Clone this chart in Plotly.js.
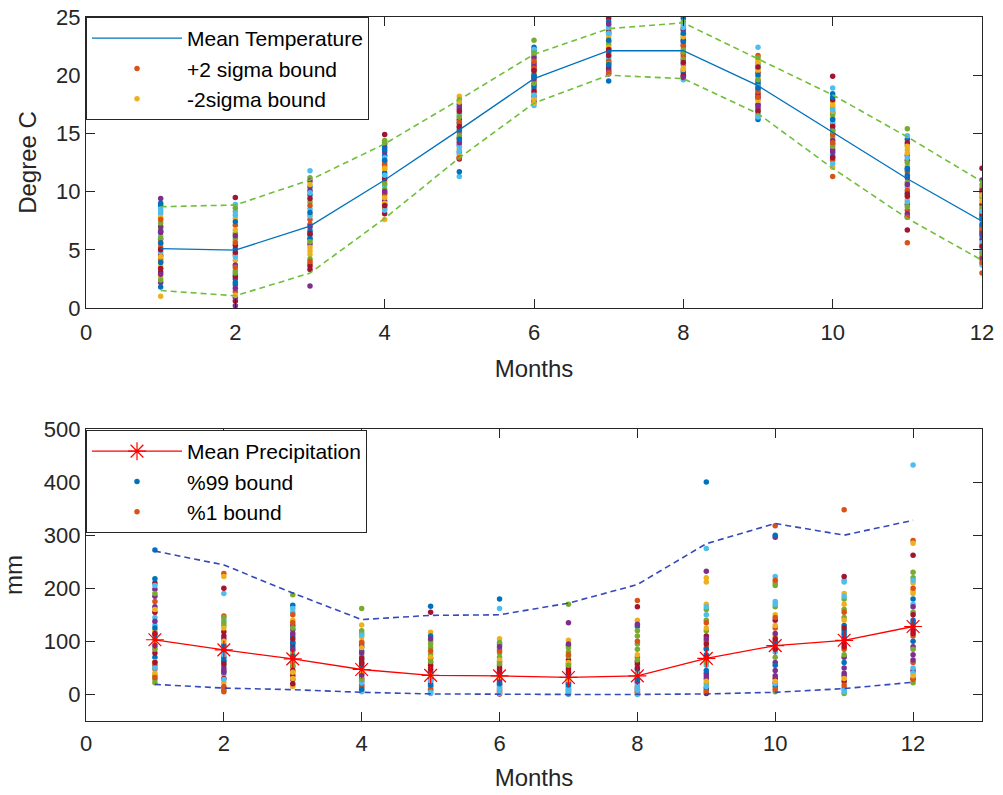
<!DOCTYPE html>
<html><head><meta charset="utf-8">
<script src="https://cdn.plot.ly/plotly-3.0.1.min.js"></script>
<style>html,body{margin:0;padding:0;background:#fff}#chart{width:1003px;height:795px}</style>
</head><body><div id="chart"></div>
<script>
// ---- data ----
const months = [1,2,3,4,5,6,7,8,9,10,11,12];
const tempMean  = [5.1, 4.97, 7.03, 11.0, 15.3, 19.7, 22.1, 22.1, 19.1, 15.1, 11.1, 7.45];
const tempUpper = [8.7, 8.85, 11.0, 14.1, 17.9, 21.8, 24.0, 24.5, 21.4, 18.3, 14.7, 10.85];
const tempLower = [1.5, 1.05, 3.0, 7.7, 12.9, 17.6, 20.0, 19.7, 16.7, 12.0, 7.7, 4.1];

const precipMean = [103, 84, 67, 47, 36, 35, 32, 35, 68, 92, 102, 128];
const precip99   = [270, 244, 191, 141, 149, 150, 172, 207, 284, 322, 300, 328];
const precip1    = [19, 12, 9, 4, 1, 0, 0, 0, 1, 4, 11, 23];

// yearly temperature samples, one array per month (index = year)
const tempJan = [5.2, 1.0, 2.2, 6.8, 8.1, 4.5, 1.8, 5.9, 2.6, 9.4, 4.0, 6.2, 3.1, 8.8, 5.5, 3.6, 7.0, 7.3, 4.8, 6.5, 9.0, 4.2, 7.8, 2.9, 6.0, 8.5, 3.4, 5.6, 7.6, 4.4, 6.6, 2.4, 8.3, 5.0, 3.9];
const tempFeb = [4.6, 5.8, 0.2, 3.2, 8.3, 0.6, 2.0, 7.1, 4.1, 0.9, 6.4, 2.9, 9.5, 5.1, 1.4, 7.7, 3.7, 6.0, 8.9, 5.4, 2.5, 3.5, 6.7, 1.7, 8.6, 4.4, 2.7, 7.4, 5.6, 1.1, 6.2, 3.0, 8.0, 4.8, 2.2];
const tempMar = [7.2, 4.6, 1.9, 9.1, 11.8, 6.3, 10.4, 3.8, 8.0, 5.5, 11.2, 6.8, 3.3, 9.7, 7.6, 4.9, 10.9, 5.9, 8.5, 3.6, 6.6, 8.8, 5.2, 10.1, 4.2, 7.9, 9.4, 6.0, 4.0, 10.6, 7.0, 5.7, 9.9, 6.4, 8.2];
const tempApr = [11.3, 7.6, 9.2, 12.6, 10.5, 14.9, 13.8, 8.6, 11.9, 9.8, 14.4, 10.9, 8.1, 13.1, 12.2, 9.5, 14.1, 10.2, 12.9, 8.9, 11.6, 12.4, 9.0, 13.4, 10.7, 8.4, 11.1, 13.6, 9.9, 12.0, 10.0, 14.2, 11.4, 8.8, 12.7];
const tempMay = [15.1, 18.2, 13.4, 16.7, 11.3, 14.6, 11.7, 12.9, 15.8, 14.0, 17.9, 13.2, 16.2, 17.5, 15.5, 13.7, 17.1, 14.3, 16.5, 12.8, 15.9, 16.0, 13.0, 17.3, 14.8, 13.9, 16.9, 15.3, 12.9, 17.7, 14.2, 16.4, 13.5, 15.6, 14.5];
const tempJun = [19.8, 21.3, 18.2, 23.0, 17.4, 20.5, 22.1, 18.8, 20.1, 19.2, 21.8, 17.9, 20.8, 22.4, 19.5, 18.5, 21.0, 20.3, 21.6, 17.7, 19.0, 20.6, 18.0, 21.5, 19.3, 22.2, 18.6, 20.0, 21.2, 17.6, 19.7, 21.9, 18.3, 20.4, 19.9];
const tempJul = [22.3, 24.3, 20.8, 23.5, 21.6, 24.9, 19.5, 20.3, 22.8, 21.1, 23.9, 22.0, 20.6, 24.6, 21.9, 23.2, 20.1, 22.6, 21.4, 23.7, 22.1, 21.2, 23.4, 20.4, 22.9, 24.1, 21.7, 23.0, 20.2, 22.4, 24.4, 21.0, 23.6, 22.2, 20.9];
const tempAug = [21.9, 24.2, 20.4, 23.2, 19.6, 22.5, 24.9, 20.9, 23.8, 21.3, 24.6, 22.8, 19.9, 23.5, 21.6, 20.6, 24.0, 22.2, 21.0, 23.0, 20.2, 22.6, 20.5, 23.9, 21.4, 24.4, 20.0, 22.9, 21.8, 23.3, 19.8, 22.0, 24.1, 21.1, 23.6];
const tempSep = [19.1, 21.3, 17.5, 20.6, 22.4, 18.4, 16.2, 17.0, 19.8, 18.0, 21.0, 16.7, 20.2, 18.8, 21.7, 17.8, 19.5, 16.5, 20.9, 18.2, 19.3, 18.6, 20.4, 17.2, 21.5, 19.0, 16.9, 20.0, 18.1, 21.1, 17.4, 19.6, 16.4, 20.7, 18.9];
const tempOct = [11.3, 12.1, 13.6, 17.2, 18.9, 19.9, 18.4, 12.7, 16.3, 14.1, 14.7, 13.2, 16.8, 15.3, 15.8, 17.7, 14.4, 13.9, 16.0, 17.9, 15.0, 14.9, 17.4, 13.0, 16.6, 12.4, 15.6, 18.1, 14.2, 16.9, 13.4, 15.2, 17.0, 12.9, 16.2];
const tempNov = [5.6, 9.3, 13.1, 15.4, 10.4, 6.7, 14.5, 8.4, 12.2, 11.2, 14.0, 9.9, 12.7, 7.9, 11.7, 13.6, 8.9, 10.8, 14.8, 9.6, 12.0, 10.1, 13.3, 8.1, 12.5, 9.1, 14.2, 11.4, 7.8, 13.9, 10.6, 8.7, 12.9, 9.8, 11.9];
const tempDec = [3.0, 5.4, 11.0, 9.5, 7.5, 12.0, 6.6, 4.4, 8.4, 5.9, 10.3, 3.7, 8.9, 6.2, 9.9, 4.9, 7.9, 10.6, 5.1, 8.1, 7.0, 6.8, 9.2, 4.2, 8.6, 5.6, 10.1, 7.2, 3.9, 9.7, 6.4, 4.7, 8.3, 5.3, 7.7];

// yearly precipitation samples, one array per month (index = year)
const precipJan = [70, 104, 62, 165, 22, 131, 210, 272, 48, 96, 185, 35, 145, 78, 218, 55, 120, 198, 28, 88, 155, 112, 175, 40, 138, 85, 205, 60, 125, 32, 160, 92, 190, 50, 115];
const precipFeb = [78, 228, 222, 45, 130, 190, 200, 62, 148, 22, 105, 8, 38, 118, 70, 5, 95, 84, 55, 140, 30, 92, 15, 125, 50, 135, 28, 110, 65, 12, 100, 42, 145, 75, 58];
const precipMar = [90, 68, 40, 122, 188, 18, 95, 168, 52, 140, 28, 82, 155, 35, 110, 60, 15, 130, 75, 100, 45, 72, 150, 30, 115, 55, 162, 20, 98, 135, 42, 85, 125, 65, 105];
const precipApr = [95, 48, 131, 25, 162, 5, 90, 65, 12, 108, 38, 120, 55, 18, 82, 42, 100, 30, 72, 8, 60, 52, 15, 88, 35, 115, 22, 68, 10, 98, 45, 78, 28, 112, 58];
const precipMay = [32, 36, 52, 15, 75, 2, 155, 166, 8, 117, 28, 88, 45, 20, 110, 60, 5, 40, 95, 12, 68, 42, 10, 70, 25, 100, 4, 55, 18, 82, 35, 105, 62, 26, 48];
const precipJun = [28, 34, 48, 12, 70, 162, 1, 180, 8, 105, 22, 85, 40, 18, 95, 55, 3, 30, 78, 15, 62, 38, 5, 65, 26, 98, 10, 50, 20, 82, 33, 90, 58, 2, 44];
const precipJul = [25, 30, 45, 135, 170, 0, 65, 10, 6, 102, 22, 80, 38, 15, 92, 52, 3, 28, 72, 12, 58, 35, 2, 60, 20, 88, 8, 48, 18, 75, 27, 95, 55, 4, 42];
const precipAug = [40, 177, 55, 10, 85, 0, 165, 34, 4, 140, 22, 110, 45, 14, 128, 70, 2, 30, 95, 18, 62, 48, 6, 75, 25, 120, 12, 58, 28, 100, 36, 132, 65, 8, 50];
const precipSep = [75, 65, 220, 232, 120, 275, 2, 400, 88, 212, 40, 20, 150, 12, 8, 100, 170, 30, 140, 55, 110, 85, 5, 125, 35, 160, 15, 95, 45, 135, 25, 105, 60, 165, 70];
const precipOct = [100, 318, 90, 296, 210, 222, 30, 300, 215, 150, 60, 5, 175, 22, 15, 125, 110, 45, 205, 80, 140, 95, 10, 130, 35, 165, 20, 105, 55, 145, 25, 115, 70, 170, 85];
const precipNov = [120, 348, 100, 35, 160, 215, 222, 115, 12, 190, 70, 2, 212, 25, 130, 85, 170, 50, 145, 8, 95, 110, 18, 140, 40, 180, 5, 125, 60, 155, 30, 105, 75, 185, 90];
const precipDec = [180, 290, 285, 45, 230, 432, 262, 140, 60, 195, 90, 22, 170, 30, 128, 110, 210, 75, 155, 40, 120, 135, 28, 190, 65, 220, 50, 150, 100, 200, 35, 165, 85, 215, 115];

const xTicks = [0,2,4,6,8,10,12];
const tempTicks = [0,5,10,15,20,25];
const precipTicks = [0,100,200,300,400,500];

// ---- styling ----
const colorOrder = ['#0072BD','#D95319','#EDB120','#7E2F8E','#77AC30','#4DBEEE','#A2142F'];
const FONT = 'Liberation Sans, Arial, Helvetica, sans-serif';
const INK = '#262626';

const tempSamples = [tempJan,tempFeb,tempMar,tempApr,tempMay,tempJun,tempJul,tempAug,tempSep,tempOct,tempNov,tempDec];
const precipSamples = [precipJan,precipFeb,precipMar,precipApr,precipMay,precipJun,precipJul,precipAug,precipSep,precipOct,precipNov,precipDec];
const nYears = tempJan.length;

const traces = [];
// top: samples
for (let k = 0; k < nYears; k++) {
  traces.push({
    x: months, y: tempSamples.map(m => m[k]), type: 'scatter', mode: 'markers',
    xaxis: 'x', yaxis: 'y', legend: 'legend',
    marker: {color: colorOrder[(k + 1) % 7], size: 5.5},
    name: k === 0 ? '+2 sigma bound' : (k === 1 ? '-2sigma bound' : 'year ' + (k + 1)),
    showlegend: k < 2, legendrank: 10 + k, hoverinfo: 'skip'
  });
}
traces.push({x: months, y: tempUpper, type: 'scatter', mode: 'lines', xaxis: 'x', yaxis: 'y',
  line: {color: '#70bf3a', width: 1.6, dash: '6px,4px'}, showlegend: false, hoverinfo: 'skip'});
traces.push({x: months, y: tempLower, type: 'scatter', mode: 'lines', xaxis: 'x', yaxis: 'y',
  line: {color: '#70bf3a', width: 1.6, dash: '6px,4px'}, showlegend: false, hoverinfo: 'skip'});
traces.push({x: months, y: tempMean, type: 'scatter', mode: 'lines', xaxis: 'x', yaxis: 'y',
  legend: 'legend', name: 'Mean Temperature', legendrank: 1,
  line: {color: '#0072BD', width: 1.3}});

// bottom: samples
for (let k = 0; k < nYears; k++) {
  traces.push({
    x: months, y: precipSamples.map(m => m[k]), type: 'scatter', mode: 'markers',
    xaxis: 'x2', yaxis: 'y2', legend: 'legend2',
    marker: {color: colorOrder[k % 7], size: 5.5},
    name: k === 0 ? '%99 bound' : (k === 1 ? '%1 bound' : 'year ' + (k + 1)),
    showlegend: k < 2, legendrank: 10 + k, hoverinfo: 'skip'
  });
}
traces.push({x: months, y: precip99, type: 'scatter', mode: 'lines', xaxis: 'x2', yaxis: 'y2',
  line: {color: '#3349bd', width: 1.6, dash: '6px,4px'}, showlegend: false, hoverinfo: 'skip'});
traces.push({x: months, y: precip1, type: 'scatter', mode: 'lines', xaxis: 'x2', yaxis: 'y2',
  line: {color: '#3349bd', width: 1.6, dash: '6px,4px'}, showlegend: false, hoverinfo: 'skip'});
traces.push({x: months, y: precipMean, type: 'scatter', mode: 'lines+markers', xaxis: 'x2', yaxis: 'y2',
  legend: 'legend2', name: 'Mean Precipitation', legendrank: 1,
  line: {color: '#FF0000', width: 1.3},
  marker: {symbol: 'asterisk-open', size: 15, color: '#FF0000', line: {color: '#FF0000', width: 1.2}}});

const W = 1003, H = 795;
const xDom = [86 / W, 982 / W];
function axisBase() {
  return {
    ticks: 'inside', ticklen: 9, tickwidth: 1, tickcolor: INK,
    showline: true, linecolor: INK, linewidth: 1.2, mirror: 'ticks',
    showgrid: false, zeroline: false,
    tickfont: {family: FONT, size: 22, color: INK}
  };
}
function legendBase(topPx) {
  return {
    x: 86 / W, y: 1 - topPx / H, xanchor: 'left', yanchor: 'top', xref: 'paper', yref: 'paper',
    bgcolor: '#ffffff', bordercolor: INK, borderwidth: 1,
    font: {family: FONT, size: 21, color: '#000'}, itemwidth: 90, tracegroupgap: 0
  };
}

const layout = {
  width: W, height: H,
  margin: {l: 0, r: 0, t: 0, b: 0},
  paper_bgcolor: '#ffffff', plot_bgcolor: '#ffffff',
  showlegend: true,
  font: {family: FONT, color: INK},
  xaxis: Object.assign(axisBase(), {domain: xDom, anchor: 'y', range: [0, 12], tickvals: xTicks, ticklabelstandoff: 4,
    title: {text: 'Months', font: {family: FONT, size: 24, color: INK}, standoff: 16}}),
  yaxis: Object.assign(axisBase(), {domain: [1 - 308 / H, 1 - 17 / H], anchor: 'x', range: [0, 25], tickvals: tempTicks,
    title: {text: 'Degree C', font: {family: FONT, size: 24, color: INK}, standoff: 12}}),
  xaxis2: Object.assign(axisBase(), {domain: xDom, anchor: 'y2', range: [0, 13], tickvals: xTicks, ticklabelstandoff: 2,
    title: {text: 'Months', font: {family: FONT, size: 24, color: INK}, standoff: 14}}),
  yaxis2: Object.assign(axisBase(), {domain: [1 - 721 / H, 1 - 429 / H], anchor: 'x2', range: [-50, 500], tickvals: precipTicks,
    title: {text: 'mm', font: {family: FONT, size: 24, color: INK}, standoff: 14}}),
  legend: legendBase(17),
  legend2: legendBase(430)
};

Plotly.newPlot('chart', traces, layout, {displayModeBar: false, staticPlot: true});
</script>
</body></html>
